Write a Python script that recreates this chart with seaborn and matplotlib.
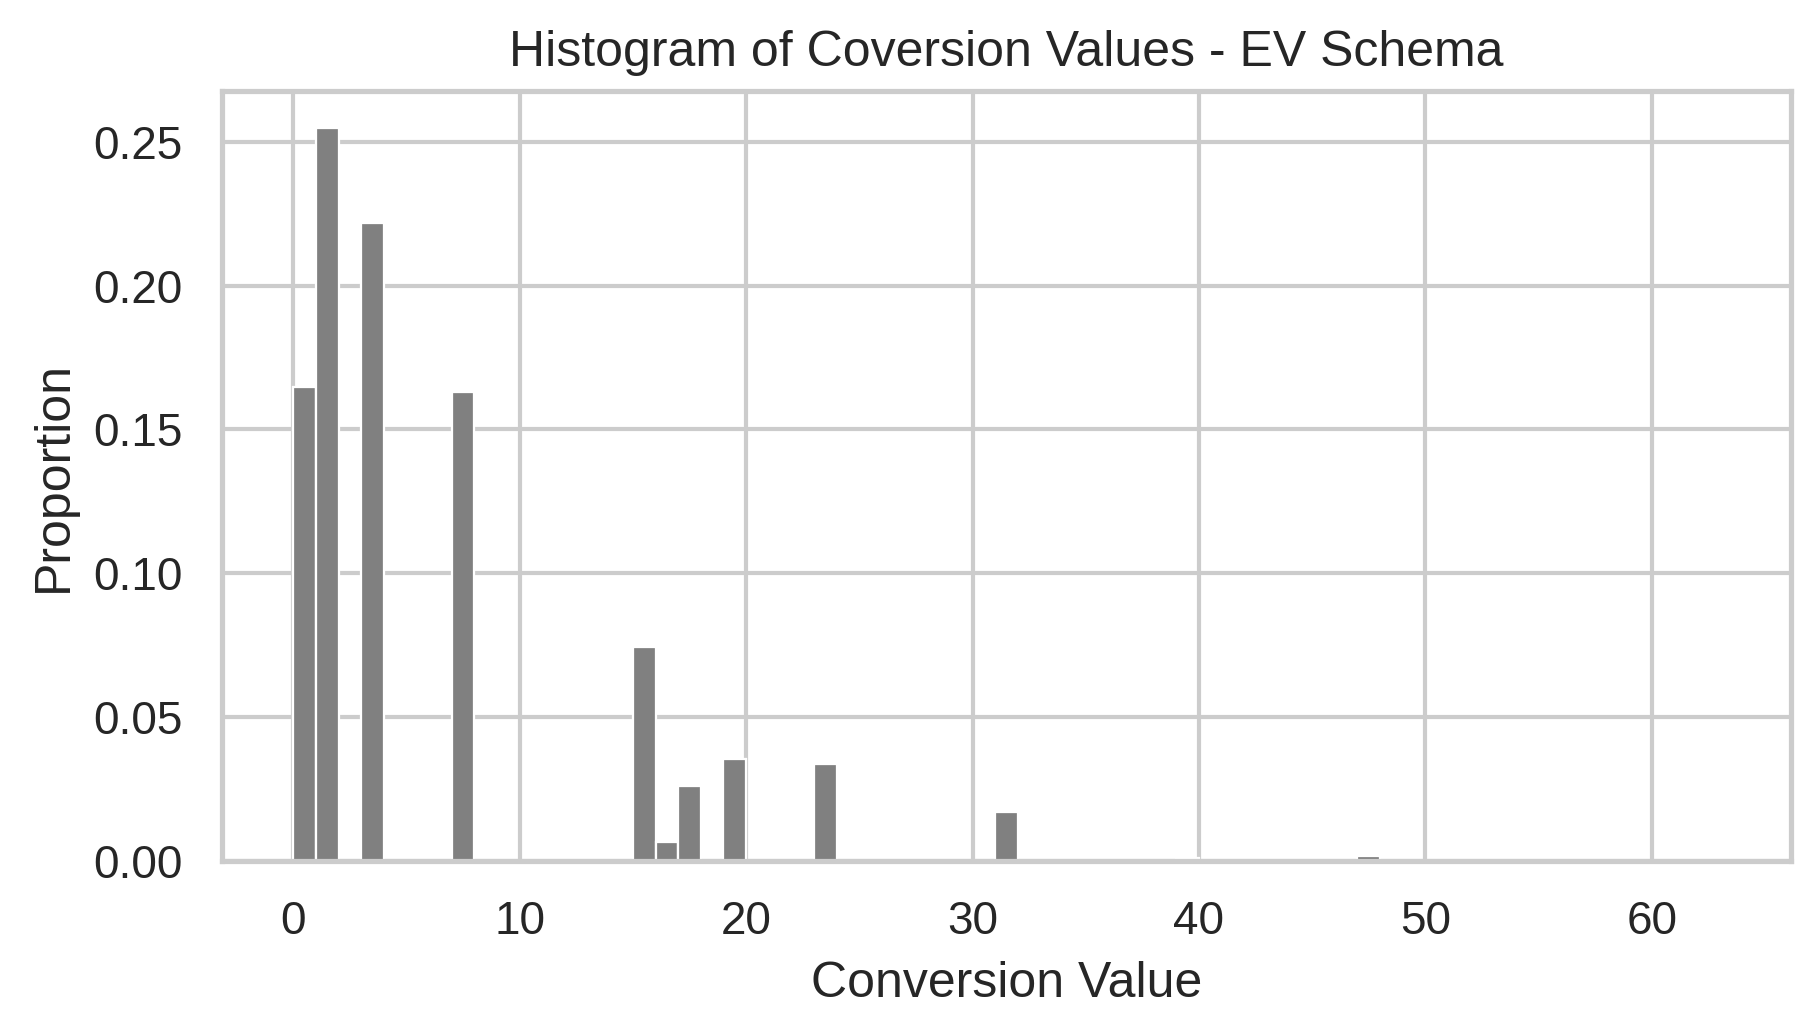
import matplotlib
matplotlib.use("Agg")
import matplotlib.pyplot as plt
import seaborn as sns
import pandas as pd

# conversion values seen in the histogram and their share of events
conversion_values = [0, 1, 3, 7, 15, 16, 17, 19, 23, 31, 39, 47]
proportions = [0.164, 0.2536, 0.2207, 0.1622, 0.0739, 0.0064,
               0.026, 0.0354, 0.0334, 0.0169, 0.0011, 0.0016]
value_range = (0, 63)

df = pd.DataFrame({"conversion_value": conversion_values, "share": proportions})

sns.set_theme(style="whitegrid")
plt.rcParams["font.family"] = ["Liberation Sans", "DejaVu Sans"]

fig, ax = plt.subplots(figsize=(1820 / 300, 1036 / 300), dpi=300)
fig.subplots_adjust(left=0.122, right=0.984, top=0.912, bottom=0.169)

sns.histplot(
    data=df,
    x="conversion_value",
    weights="share",
    binwidth=1,
    binrange=value_range,
    stat="proportion",
    color="gray",
    alpha=1,
    ax=ax
)

ax.set_title("Histogram of Coversion Values - EV Schema")
ax.set_xlabel("Conversion Value")
ax.set_ylabel("Proportion")

fig.savefig("out.png", dpi=300)
